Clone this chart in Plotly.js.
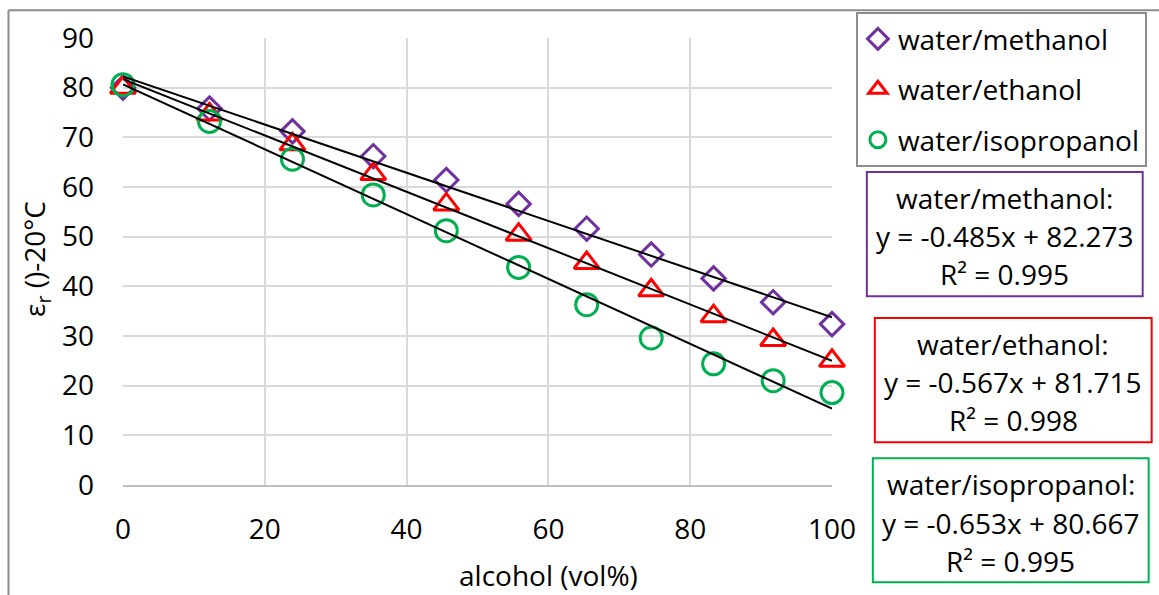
<!DOCTYPE html>
<html>
<head>
<meta charset="utf-8">
<script src="https://cdn.plot.ly/plotly-3.0.1.min.js"></script>
<style>
  html, body { margin: 0; padding: 0; background: #fff; }
  #chart { width: 1159px; height: 595px; }
</style>
</head>
<body>
<div id="chart"></div>
<script>
// ---- data ----
const alcoholVol = [0, 12.2, 23.9, 35.3, 45.6, 55.8, 65.4, 74.5, 83.3, 91.7, 100];
const methanolEps = [80.0, 75.8, 71.2, 66.2, 61.4, 56.6, 51.6, 46.4, 41.6, 36.8, 32.4];
const ethanolEps = [80.0, 74.6, 68.6, 62.6, 56.5, 50.4, 44.7, 39.2, 34.0, 29.2, 25.0];
const isopropanolEps = [80.6, 73.2, 65.6, 58.4, 51.2, 43.8, 36.3, 29.6, 24.4, 21.0, 18.6];

const seriesNames = ['water/methanol', 'water/ethanol', 'water/isopropanol'];
const fitSlopes = [-0.485, -0.567, -0.653];
const fitIntercepts = [82.273, 81.715, 80.667];
const fitR2 = ['0.995', '0.998', '0.995'];
const fitRange = [0, 100];

const xTicks = [0, 20, 40, 60, 80, 100];
const yTicks = [0, 10, 20, 30, 40, 50, 60, 70, 80, 90];

// ---- styling ----
const colors = ['#7030A0', '#FF0000', '#00B050'];
const symbols = ['diamond-open', 'triangle-up-open', 'circle-open'];
const sizes = [18, 22, 22];
const FONT = 'Open Sans, Noto Sans, sans-serif';
const FS = 28;

const allY = [methanolEps, ethanolEps, isopropanolEps];
const traces = [];
for (let i = 0; i < 3; i++) {
  traces.push({
    type: 'scatter', mode: 'markers', name: seriesNames[i],
    x: alcoholVol, y: allY[i], legendgroup: 'g' + i,
    marker: { symbol: symbols[i], size: sizes[i], color: colors[i], line: { color: colors[i], width: 3 } },
    cliponaxis: false
  });
}
for (let i = 0; i < 3; i++) {
  traces.push({
    type: 'scatter', mode: 'lines', showlegend: false, hoverinfo: 'skip',
    x: fitRange, y: fitRange.map(v => fitSlopes[i] * v + fitIntercepts[i]),
    line: { color: '#000000', width: 2 }
  });
}

// layout geometry (pixels -> paper)
const L = 123, R = 835, T = 35, B = 485, W = 1159, H = 595;
const px = X => (X - L) / (R - L);
const py = Y => (B - Y) / (B - T);

const shapes = [
  { type: 'line', xref: 'paper', yref: 'paper', x0: px(8), x1: px(8), y0: py(7), y1: py(600), line: { color: '#8c8c8c', width: 2 } },
  { type: 'line', xref: 'paper', yref: 'paper', x0: px(8), x1: px(1165), y0: py(7), y1: py(7), line: { color: '#8c8c8c', width: 2 } }
];
const boxes = [
  { x0: 870, x1: 1147, y0: 170, y1: 295, lines: [195, 233, 272] },
  { x0: 878, x1: 1156, y0: 317, y1: 442, lines: [342, 380, 419] },
  { x0: 876, x1: 1153, y0: 458, y1: 583, lines: [483, 522, 561] }
];
const annotations = [];
boxes.forEach((b, i) => {
  shapes.push({ type: 'rect', xref: 'paper', yref: 'paper', x0: px(b.x0), x1: px(b.x1), y0: py(b.y0), y1: py(b.y1),
    line: { color: colors[i], width: 2 }, fillcolor: 'rgba(0,0,0,0)' });
  const texts = [
    seriesNames[i] + ':',
    'y = ' + fitSlopes[i].toFixed(3) + 'x + ' + fitIntercepts[i].toFixed(3),
    'R² = ' + fitR2[i]
  ];
  texts.forEach((t, j) => {
    annotations.push({ xref: 'paper', yref: 'paper', x: px((b.x0 + b.x1) / 2), y: py(b.lines[j] + 1),
      xanchor: 'center', yanchor: 'middle', showarrow: false, text: t,
      font: { family: FONT, size: FS, color: '#000' } });
  });
});
annotations.push({ xref: 'paper', yref: 'paper', x: px(550), y: py(576), xanchor: 'center', yanchor: 'middle',
  showarrow: false, text: 'alcohol (vol%)', font: { family: FONT, size: FS, color: '#000' } });
annotations.push({ xref: 'paper', yref: 'paper', x: px(35), y: py(257), xanchor: 'center', yanchor: 'middle',
  showarrow: false, textangle: -90, text: 'ε<sub>r</sub> ()-20°C', font: { family: FONT, size: FS, color: '#000' } });

const layout = {
  width: W, height: H,
  margin: { l: L, r: W - R, t: T, b: H - B, pad: 0 },
  paper_bgcolor: '#fff', plot_bgcolor: '#fff',
  showlegend: true,
  legend: {
    x: px(859), y: py(9), xanchor: 'left', yanchor: 'top',
    bordercolor: '#8c8c8c', borderwidth: 2, bgcolor: '#fff',
    font: { family: FONT, size: FS, color: '#000' },
    tracegroupgap: 11, traceorder: 'grouped'
  },
  xaxis: {
    range: [0, 100], tickvals: xTicks, ticktext: xTicks.map(String),
    showgrid: true, gridcolor: '#d9d9d9', gridwidth: 2,
    zeroline: false, showline: true, linecolor: '#bfbfbf', linewidth: 2,
    ticks: '', ticklabelstandoff: 18,
    tickfont: { family: FONT, size: FS, color: '#000' }
  },
  yaxis: {
    range: [0, 90], tickvals: yTicks, ticktext: yTicks.map(String),
    showgrid: true, gridcolor: '#d9d9d9', gridwidth: 2,
    zeroline: false, showline: false,
    ticks: '', ticklabelstandoff: 28,
    tickfont: { family: FONT, size: FS, color: '#000' }
  },
  shapes: shapes,
  annotations: annotations
};

Plotly.newPlot('chart', traces, layout, { displayModeBar: false, staticPlot: true });
</script>
</body>
</html>
